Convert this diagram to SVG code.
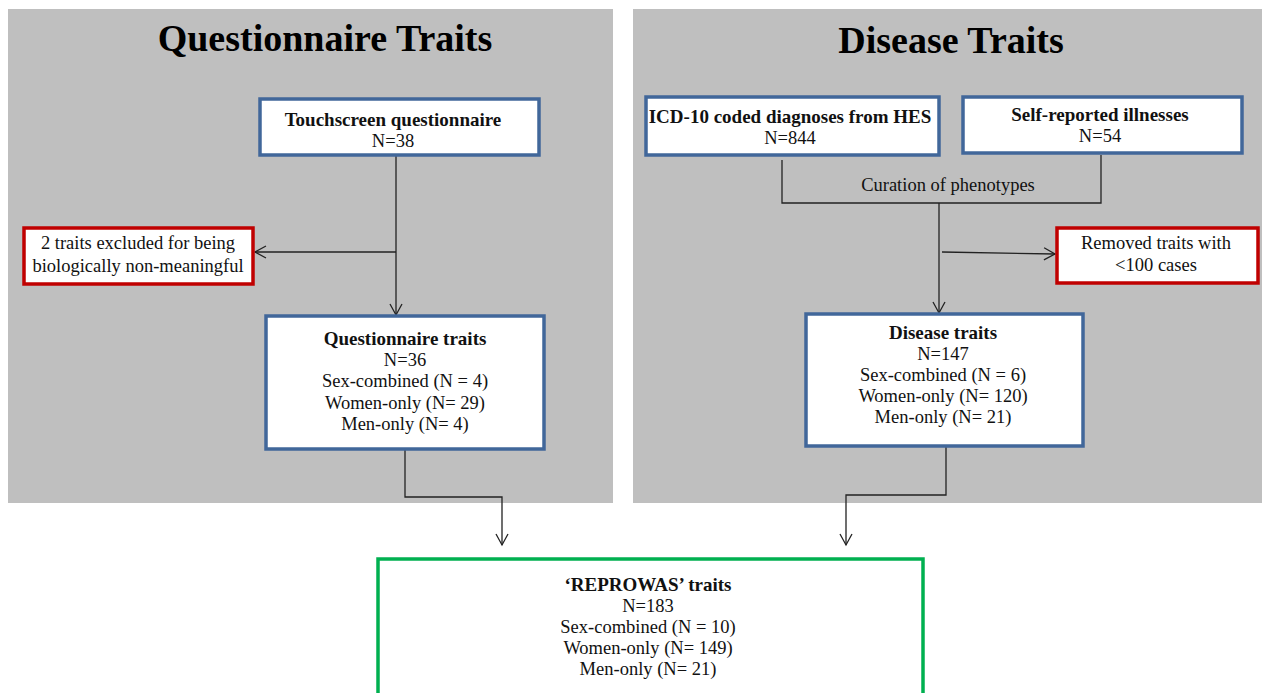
<svg xmlns="http://www.w3.org/2000/svg" width="1270" height="693" viewBox="0 0 1270 693">
<defs>
<marker id="arr" markerWidth="14" markerHeight="14" refX="12" refY="7" orient="auto" markerUnits="userSpaceOnUse">
<path d="M1,1 L12,7 L1,13" fill="none" stroke="#222" stroke-width="1.3"/>
</marker>
</defs>
<style>
.panel{fill:#BFBFBF;}
.title{font-family:"Liberation Serif",serif;font-weight:bold;font-size:38px;fill:#000;text-anchor:middle;}
.box{fill:#fff;stroke:#41679A;stroke-width:3.5;}
.red{fill:#fff;stroke:#C00000;stroke-width:3.5;}
.green{fill:#fff;stroke:#00B050;stroke-width:3.5;}
.t{font-family:"Liberation Serif",serif;font-size:18.5px;fill:#111;text-anchor:middle;}
.b{font-weight:bold;font-size:19px;}
.c{fill:none;stroke:#222;stroke-width:1.3;}
</style>
<rect class="panel" x="8" y="9" width="605" height="494"/>
<rect class="panel" x="633" y="9" width="629" height="494"/>
<text class="title" x="325" y="51">Questionnaire Traits</text>
<text class="title" x="951" y="53">Disease Traits</text>

<g id="connectors">
<path class="c" d="M396,155 V315" marker-end="url(#arr)"/>
<path class="c" d="M396,252 H255" marker-end="url(#arr)"/>
<path class="c" d="M405,449 V497 H502 V545" marker-end="url(#arr)"/>
<path class="c" d="M782,160 V203 H1101 V155"/>
<path class="c" d="M939,203 V313" marker-end="url(#arr)"/>
<path class="c" d="M942,252 L1055,254" marker-end="url(#arr)"/>
<path class="c" d="M946,447 V495 H846 V545" marker-end="url(#arr)"/>
</g>
<text class="t" x="948" y="191">Curation of phenotypes</text>

<g id="touchscreen">
<rect class="box" x="260" y="99" width="279" height="56"/>
<text class="t b" x="393" y="126">Touchscreen questionnaire</text>
<text class="t" x="393" y="147">N=38</text>
</g>
<g id="excluded">
<rect class="red" x="24" y="228" width="229" height="56"/>
<text class="t" x="138" y="249">2 traits excluded for being</text>
<text class="t" x="138" y="272">biologically  non-meaningful</text>
</g>
<g id="questionnaire">
<rect class="box" x="266" y="316" width="278" height="133"/>
<text class="t b" x="405" y="345">Questionnaire traits</text>
<text class="t" x="405" y="366">N=36</text>
<text class="t" x="405" y="387">Sex-combined (N = 4)</text>
<text class="t" x="405" y="409">Women-only (N= 29)</text>
<text class="t" x="405" y="430">Men-only (N= 4)</text>
</g>
<g id="icd">
<rect class="box" x="646" y="97" width="293" height="58"/>
<text class="t b" x="790" y="123">ICD-10 coded diagnoses from HES</text>
<text class="t" x="790" y="144">N=844</text>
</g>
<g id="selfreported">
<rect class="box" x="963" y="97" width="279" height="56"/>
<text class="t b" x="1100" y="121">Self-reported illnesses</text>
<text class="t" x="1100" y="142">N=54</text>
</g>
<g id="removed">
<rect class="red" x="1057" y="228" width="201" height="55"/>
<text class="t" x="1156" y="249">Removed traits with</text>
<text class="t" x="1156" y="271">&lt;100 cases</text>
</g>
<g id="disease">
<rect class="box" x="806" y="314" width="277" height="132"/>
<text class="t b" x="943" y="339">Disease traits</text>
<text class="t" x="943" y="360">N=147</text>
<text class="t" x="943" y="381">Sex-combined (N = 6)</text>
<text class="t" x="943" y="402">Women-only (N= 120)</text>
<text class="t" x="943" y="423">Men-only (N= 21)</text>
</g>
<g id="reprowas">
<rect class="green" x="378" y="559" width="545" height="140"/>
<text class="t b" x="648" y="591">‘REPROWAS’ traits</text>
<text class="t" x="648" y="612">N=183</text>
<text class="t" x="648" y="633">Sex-combined (N = 10)</text>
<text class="t" x="648" y="654">Women-only (N= 149)</text>
<text class="t" x="648" y="675">Men-only (N= 21)</text>
</g>
</svg>
